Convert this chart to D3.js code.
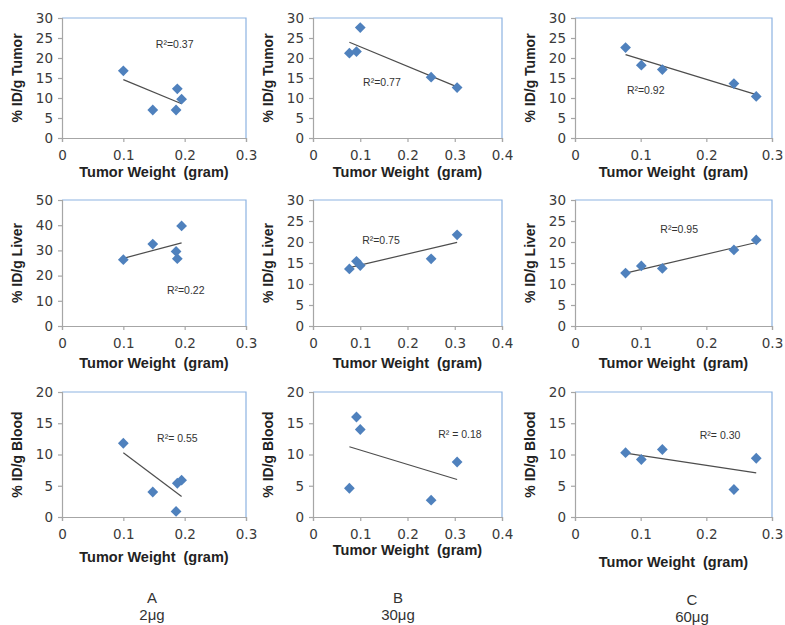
<!DOCTYPE html>
<html>
<head>
<meta charset="utf-8">
<script src="https://cdn.jsdelivr.net/npm/d3@7"></script>
<style>
  body { margin: 0; background: #fff; }
  svg text { font-family: "Liberation Sans", Arial, sans-serif; }
  .tick text { font-family: "DejaVu Sans", sans-serif; font-size: 13.5px; fill: #3a3a3a; }
</style>
</head>
<body>
<svg id="chart" width="785" height="625"></svg>
<script>
// tumor weights (gram), one list per dose group
var weightA = [0.1, 0.148, 0.186, 0.188, 0.195];
var weightB = [0.077, 0.092, 0.1, 0.25, 0.305];
var weightC = [0.077, 0.101, 0.133, 0.242, 0.276];

// %ID/g per organ
var tumorA = [16.8, 7.0, 7.0, 12.3, 9.7];
var tumorB = [21.2, 21.6, 27.6, 15.2, 12.6];
var tumorC = [22.6, 18.2, 17.1, 13.6, 10.4];
var liverA = [26.3, 32.5, 29.6, 26.7, 39.7];
var liverB = [13.6, 15.4, 14.4, 16.0, 21.7];
var liverC = [12.6, 14.3, 13.7, 18.1, 20.5];
var bloodA = [11.8, 4.0, 0.9, 5.4, 5.9];
var bloodB = [4.6, 16.0, 14.0, 2.7, 8.8];
var bloodC = [10.3, 9.2, 10.8, 4.4, 9.4];

var groups = ["A", "B", "C"];
var doses = ["2μg", "30μg", "60μg"];
var organs = ["Tumor", "Liver", "Blood"];
var xMax = [0.3, 0.4, 0.3];
var xTicks = [[0, 0.1, 0.2, 0.3], [0, 0.1, 0.2, 0.3, 0.4], [0, 0.1, 0.2, 0.3]];
var yTicks = [
  [[0, 5, 10, 15, 20, 25, 30], [0, 5, 10, 15, 20, 25, 30], [0, 5, 10, 15, 20, 25, 30]],
  [[0, 10, 20, 30, 40, 50], [0, 5, 10, 15, 20, 25, 30], [0, 5, 10, 15, 20, 25, 30]],
  [[0, 5, 10, 15, 20], [0, 5, 10, 15, 20], [0, 5, 10, 15, 20]]
];
var r2Labels = [
  ["R²=0.37", "R²=0.77", "R²=0.92"],
  ["R²=0.22", "R²=0.75", "R²=0.95"],
  ["R²= 0.55", "R² = 0.18", "R²= 0.30"]
];

var weights = [weightA, weightB, weightC];
var values = [[tumorA, tumorB, tumorC], [liverA, liverB, liverC], [bloodA, bloodB, bloodC]];

// layout (pixels)
var colLeft = [62, 313, 575], colRight = [246, 502, 772];
var rowTop = [18, 200, 392], rowBottom = [138, 326, 517];
var xTitleOff = [[34, 34, 34], [37, 37, 37], [40, 33, 45]];
var groupX = [152, 398, 692];
// R² label anchor in data units (x, y)
var r2Pos = [
  [[0.153, 23.5], [0.106, 13.8], [0.079, 11.9]],
  [[0.171, 14], [0.104, 20.3], [0.13, 23]],
  [[0.155, 12.6], [0.265, 13.2], [0.19, 13]]
];

var svg = d3.select("#chart");
var diamond = d3.symbol(d3.symbolSquare, 58);

function fit(xs, ys) {
  var mx = d3.mean(xs), my = d3.mean(ys);
  var sxy = d3.sum(xs, function(x, i) { return (x - mx) * (ys[i] - my); });
  var sxx = d3.sum(xs, function(x) { return (x - mx) * (x - mx); });
  var b = sxy / sxx;
  return function(x) { return my + b * (x - mx); };
}

organs.forEach(function(organ, r) {
  groups.forEach(function(g, c) {
    var xs = weights[c], ys = values[r][c];
    var yt = yTicks[r][c];
    var x = d3.scaleLinear().domain([0, xMax[c]]).range([colLeft[c], colRight[c]]);
    var y = d3.scaleLinear().domain([0, yt[yt.length - 1]]).range([rowBottom[r], rowTop[r]]);
    var p = svg.append("g");

    // plot border (top/right in blue)
    p.append("path")
      .attr("d", "M" + x.range()[0] + "," + y.range()[1] + "H" + x.range()[1] + "V" + y.range()[0])
      .attr("fill", "none").attr("stroke", "#8db3e2").attr("stroke-width", 1.2);

    var ya = p.append("g").attr("transform", "translate(" + x.range()[0] + ",0)")
      .call(d3.axisLeft(y).tickValues(yt).tickSize(4).tickPadding(5).tickFormat(d3.format("d")));
    var xa = p.append("g").attr("transform", "translate(0," + y.range()[0] + ")")
      .call(d3.axisBottom(x).tickValues(xTicks[c]).tickSize(4).tickPadding(8)
        .tickFormat(function(d) { return d === 0 ? "0" : d3.format(".1f")(d); }));
    [ya, xa].forEach(function(a) {
      a.selectAll(".domain, .tick line").attr("stroke", "#a6a6a6").attr("stroke-width", 1.2);
    });

    // trend line
    var f = fit(xs, ys);
    var x0 = d3.min(xs), x1 = d3.max(xs);
    p.append("line")
      .attr("x1", x(x0)).attr("y1", y(f(x0)))
      .attr("x2", x(x1)).attr("y2", y(f(x1)))
      .attr("stroke", "#4d4d4d").attr("stroke-width", 1.2);

    p.selectAll(".pt").data(xs).enter().append("path")
      .attr("class", "pt")
      .attr("d", diamond)
      .attr("transform", function(d, i) { return "translate(" + x(d) + "," + y(ys[i]) + ") rotate(45)"; })
      .attr("fill", "#4f81bd");

    p.append("text")
      .attr("x", x(r2Pos[r][c][0])).attr("y", y(r2Pos[r][c][1]))
      .attr("dy", "0.35em")
      .attr("font-size", 10.5).attr("fill", "#333")
      .text(r2Labels[r][c]);

    // axis titles
    p.append("text")
      .attr("transform", "translate(" + (x.range()[0] - 45) + "," + ((y.range()[0] + y.range()[1]) / 2) + ") rotate(-90)")
      .attr("text-anchor", "middle").attr("dy", "0.35em")
      .attr("font-size", 14).attr("font-weight", "bold").attr("fill", "#222")
      .text("% ID/g " + organ);
    p.append("text")
      .attr("x", (x.range()[0] + x.range()[1]) / 2)
      .attr("y", y.range()[0] + xTitleOff[r][c])
      .attr("text-anchor", "middle").attr("dy", "0.35em")
      .attr("font-size", 14.5).attr("font-weight", "bold").attr("fill", "#222")
      .text("Tumor Weight\u00a0 (gram)");
  });
});

groups.forEach(function(g, c) {
  svg.append("text").attr("x", groupX[c]).attr("y", 598 + (c === 2 ? 2 : 0))
    .attr("text-anchor", "middle").attr("dy", "0.35em")
    .attr("font-size", 15).attr("fill", "#333").text(g);
  svg.append("text").attr("x", groupX[c]).attr("y", 615 + (c === 2 ? 2 : 0))
    .attr("text-anchor", "middle").attr("dy", "0.35em")
    .attr("font-size", 15).attr("fill", "#333").text(doses[c]);
});
</script>
</body>
</html>
